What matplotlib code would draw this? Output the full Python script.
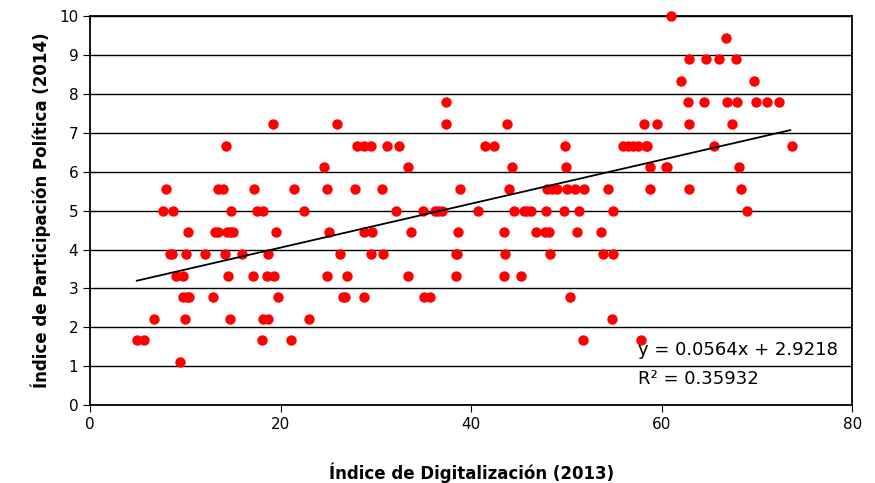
import matplotlib.pyplot as plt
import numpy as np

# discrete participation levels (steps of 1/1.8)
x_by_level = {
    1.11: [9.4],
    1.67: [4.9, 5.7, 18.0, 21.1, 51.7, 57.8],
    2.22: [6.7, 10.0, 14.7, 18.1, 18.7, 23.0, 54.8],
    2.78: [9.7, 10.2, 10.4, 12.9, 19.7, 26.5, 26.8, 28.8, 35.0, 35.7, 50.4],
    3.33: [9.0, 9.8, 14.5, 17.1, 18.6, 19.3, 24.9, 27.0, 33.4, 38.4, 43.4, 45.2],
    3.89: [8.4, 8.6, 10.1, 12.1, 14.2, 15.9, 18.7, 26.2, 29.5, 30.7, 38.4, 38.5,
           43.5, 48.3, 53.8, 54.9],
    4.44: [10.3, 13.1, 13.4, 14.4, 14.7, 15.0, 19.5, 25.1, 28.8, 29.6, 33.7, 38.6,
           43.4, 46.8, 47.8, 48.2, 51.1, 53.6],
    5.00: [7.6, 8.7, 14.8, 17.5, 18.1, 22.5, 32.1, 34.9, 36.2, 36.5, 36.9, 40.7,
           44.5, 45.5, 45.9, 46.3, 47.9, 49.7, 51.3, 54.9, 68.9],
    5.56: [8.0, 13.4, 13.9, 17.2, 21.4, 24.9, 27.8, 30.6, 38.8, 44.0, 48.0, 48.5,
           49.0, 50.1, 50.9, 51.8, 54.4, 58.8, 62.9, 68.3],
    6.11: [24.6, 33.4, 44.3, 49.9, 58.8, 60.4, 60.6, 68.1],
    6.67: [14.3, 28.0, 28.7, 29.5, 31.2, 32.4, 41.4, 42.4, 49.8, 55.9, 56.5, 57.0,
           57.5, 58.3, 58.5, 65.5, 73.7],
    7.22: [19.2, 25.9, 37.4, 43.8, 58.1, 59.5, 62.9, 67.4],
    7.78: [37.4, 62.8, 64.4, 66.9, 67.9, 69.9, 71.0, 72.3],
    8.33: [62.0, 69.7],
    8.89: [62.9, 64.7, 66.0, 67.8],
    9.44: [66.8],
    10.0: [61.0],
}
slope, intercept = 0.0564, 2.9218
x_line = [4.9, 73.5]

xs = [x for lv, v in x_by_level.items() for x in v]
ys = [lv for lv, v in x_by_level.items() for x in v]

fig = plt.figure(figsize=(8.75, 4.83), dpi=100)
ax = fig.add_axes([0.103, 0.161, 0.871, 0.806])
ax.scatter(xs, ys, s=42, color='red', zorder=3, clip_on=False)
ax.plot(x_line, [slope * x + intercept for x in x_line], color='black', lw=1.3, zorder=4)

ax.set_xlim(0, 80)
ax.set_ylim(0, 10)
ax.set_xticks(range(0, 81, 20))
ax.set_yticks(range(0, 11))
ax.yaxis.grid(True, color='black', lw=1)
ax.set_axisbelow(True)
for s in ax.spines.values():
    s.set_linewidth(1.3)
ax.tick_params(axis='both', labelsize=11, length=5, direction='out')
ax.set_xlabel('Índice de Digitalización (2013)', fontsize=12, fontweight='bold', labelpad=22)
ax.set_ylabel('Índice de Participación Política (2014)', fontsize=12, fontweight='bold', labelpad=6)
ax.text(57.5, 1.3, 'y = 0.0564x + 2.9218', fontsize=13)
ax.text(57.5, 0.55, 'R² = 0.35932', fontsize=13)

fig.savefig('out.png')
